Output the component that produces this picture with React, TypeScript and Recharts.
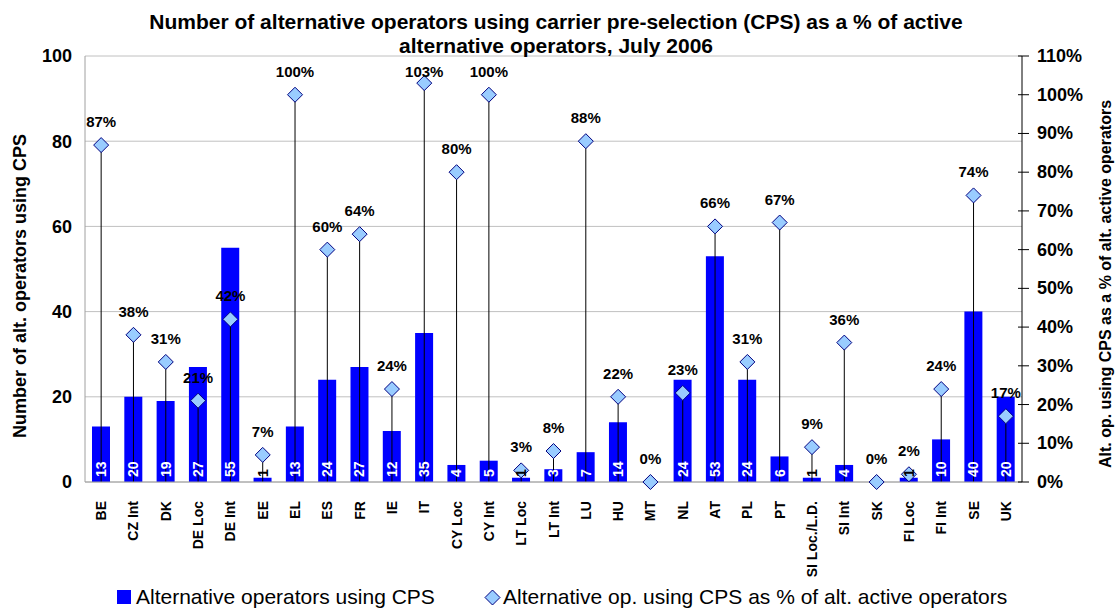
import {
    ComposedChart,
    Bar,
    Line,
    XAxis,
    YAxis,
    CartesianGrid,
    Legend,
    LabelList,
    ErrorBar
} from 'recharts'

const countries = [
    'BE', 'CZ Int', 'DK', 'DE Loc', 'DE Int', 'EE', 'EL', 'ES', 'FR', 'IE',
    'IT', 'CY Loc', 'CY Int', 'LT Loc', 'LT Int', 'LU', 'HU', 'MT', 'NL', 'AT',
    'PL', 'PT', 'SI Loc./L.D.', 'SI Int', 'SK', 'FI Loc', 'FI Int', 'SE', 'UK'
]
const operatorsUsingCps = [
    13, 20, 19, 27, 55, 1, 13, 24, 27, 12,
    35, 4, 5, 1, 3, 7, 14, 0, 24, 53,
    24, 6, 1, 4, 0, 1, 10, 40, 20
]
const shareOfActive = [
    87, 38, 31, 21, 42, 7, 100, 60, 64, 24,
    103, 80, 100, 3, 8, 88, 22, 0, 23, 66,
    31, 67, 9, 36, 0, 2, 24, 74, 17
]
const countTicks = [0, 20, 40, 60, 80, 100]
const pctTicks = [0, 10, 20, 30, 40, 50, 60, 70, 80, 90, 100, 110]

const data = countries.map((c, i) => ({
    country: c,
    ops: operatorsUsingCps[i],
    pct: shareOfActive[i]
}))

const FONT = 'Arial, "Liberation Sans", sans-serif'

const Diamond = (props: any) => {
    const { cx, cy, index } = props
    if (cx == null || cy == null) return null
    const r = 7.5
    return (
        <polygon
            key={`d-${index}`}
            points={`${cx},${cy - r} ${cx + r},${cy} ${cx},${cy + r} ${cx - r},${cy}`}
            fill="#99CCFF"
            stroke="#000080"
            strokeWidth={1}
        />
    )
}

const BarValue = (props: any) => {
    const { x, y, width, height, value } = props
    const cx = x + width / 2
    const cy = y + height - 5
    return (
        <text
            x={cx}
            y={cy}
            transform={`rotate(-90, ${cx}, ${cy})`}
            textAnchor="start"
            dominantBaseline="central"
            fill={value <= 1 ? '#000' : '#fff'}
            fontSize={14}
            fontWeight="bold"
            fontFamily={FONT}
        >
            {value}
        </text>
    )
}

const PctValue = (props: any) => {
    const { x, y, value } = props
    const ty = Math.max(y - 18, 77)
    return (
        <text
            x={x}
            y={ty}
            textAnchor="middle"
            fill="#000"
            fontSize={15}
            fontWeight="bold"
            fontFamily={FONT}
        >
            {value}%
        </text>
    )
}

const CountryTick = (props: any) => {
    const { x, y, payload } = props
    const ty = y + 11
    return (
        <text
            x={x}
            y={ty}
            transform={`rotate(-90, ${x}, ${ty})`}
            textAnchor="end"
            dominantBaseline="central"
            fill="#000"
            fontSize={14}
            fontWeight="bold"
            fontFamily={FONT}
        >
            {payload.value}
        </text>
    )
}

// right axis in the original has ticks crossing the axis line
const PctTick = (props: any) => {
    const { x, y, payload } = props
    const ax = x - 15
    return (
        <g>
            <line x1={ax - 4} y1={y} x2={ax + 7} y2={y} stroke="#000" strokeWidth={1} />
            <text
                x={x}
                y={y}
                textAnchor="start"
                dominantBaseline="central"
                fill="#000"
                fontSize={18}
                fontWeight="bold"
                fontFamily={FONT}
            >
                {payload.value}%
            </text>
        </g>
    )
}

const ChartLegend = () => (
    <div style={{ height: 26, position: 'relative', fontFamily: FONT, fontSize: 21, color: '#000' }}>
        <div style={{ position: 'absolute', left: 117, top: 6, width: 14, height: 14, background: '#0000FF' }} />
        <span style={{ position: 'absolute', left: 136, top: 0, lineHeight: '26px', whiteSpace: 'nowrap' }}>
            Alternative operators using CPS
        </span>
        <svg style={{ position: 'absolute', left: 484, top: 5 }} width={17} height={17}>
            <polygon points="8.5,1 16,8.5 8.5,16 1,8.5" fill="#99CCFF" stroke="#000080" strokeWidth={1} />
        </svg>
        <span style={{ position: 'absolute', left: 503, top: 0, lineHeight: '26px', whiteSpace: 'nowrap' }}>
            Alternative op. using CPS as % of alt. active operators
        </span>
    </div>
)

export default function App() {
    return (
        <div style={{ position: 'absolute', left: 0, top: 0, width: 1115, height: 610, background: '#fff' }}>
            <div
                style={{
                    position: 'absolute',
                    left: 0,
                    top: 10,
                    width: 1112,
                    textAlign: 'center',
                    fontFamily: FONT,
                    fontWeight: 'bold',
                    fontSize: 21,
                    lineHeight: '24px',
                    color: '#000',
                    zIndex: 2
                }}
            >
                Number of alternative operators using carrier pre-selection (CPS) as a % of active
                <br />
                alternative operators, July 2006
            </div>
            <ComposedChart
                width={1115}
                height={610}
                data={data}
                margin={{ top: 56, right: 30, bottom: 0, left: 30 }}
                barGap={0}
            >
                <CartesianGrid yAxisId="left" vertical={false} stroke="#C0C0C0" />
                <XAxis
                    dataKey="country"
                    interval={0}
                    height={102}
                    tickLine={false}
                    axisLine={{ stroke: '#A0A0A0' }}
                    tick={<CountryTick />}
                />
                <YAxis
                    yAxisId="left"
                    width={55}
                    domain={[0, 100]}
                    ticks={countTicks}
                    axisLine={{ stroke: '#A0A0A0' }}
                    tickLine={false}
                    tickSize={0}
                    tickMargin={13}
                    tick={{ fill: '#000', fontSize: 18, fontWeight: 'bold', fontFamily: FONT }}
                    label={() => (
                        <text
                            x={20}
                            y={286}
                            transform="rotate(-90, 20, 286)"
                            textAnchor="middle"
                            dominantBaseline="central"
                            fontSize={18}
                            fontWeight="bold"
                            fontFamily={FONT}
                            fill="#000"
                        >
                            Number of alt. operators using CPS
                        </text>
                    )}
                />
                <YAxis
                    yAxisId="right"
                    orientation="right"
                    width={63}
                    domain={[0, 110]}
                    ticks={pctTicks}
                    axisLine={{ stroke: '#000' }}
                    tickLine={false}
                    tickSize={7}
                    tickMargin={8}
                    tick={<PctTick />}
                    label={() => (
                        <text
                            x={1105}
                            y={284}
                            transform="rotate(-90, 1105, 284)"
                            textAnchor="middle"
                            dominantBaseline="central"
                            fontSize={16}
                            fontWeight="bold"
                            fontFamily={FONT}
                            fill="#000"
                        >
                            Alt. op. using CPS as a % of alt. active operators
                        </text>
                    )}
                />
                <Legend verticalAlign="bottom" wrapperStyle={{ left: 0, width: 1115 }} content={<ChartLegend />} />
                <Bar
                    yAxisId="left"
                    dataKey="ops"
                    name="Alternative operators using CPS"
                    fill="#0000FF"
                    barSize={18}
                    isAnimationActive={false}
                >
                    <LabelList dataKey="ops" content={<BarValue />} />
                </Bar>
                <Line
                    yAxisId="right"
                    dataKey="pct"
                    name="Alternative op. using CPS as % of alt. active operators"
                    stroke="none"
                    dot={<Diamond />}
                    activeDot={false}
                    isAnimationActive={false}
                >
                    <ErrorBar
                        dataKey={(d: any) => [d.pct, 0]}
                        direction="y"
                        width={0}
                        stroke="#000"
                        strokeWidth={1}
                    />
                    <LabelList dataKey="pct" content={<PctValue />} />
                </Line>
            </ComposedChart>
        </div>
    )
}
